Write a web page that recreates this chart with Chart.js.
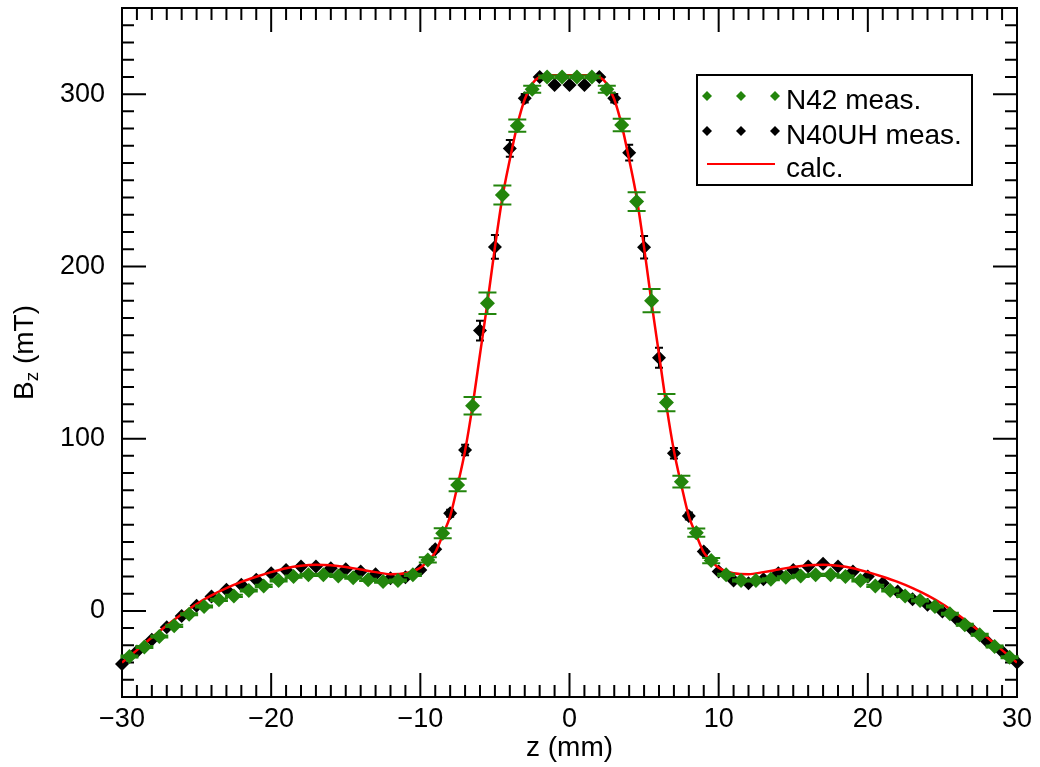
<!DOCTYPE html>
<html lang="en">
<head>
<meta charset="UTF-8" />
<title>Bz along z</title>
<script src="https://cdn.jsdelivr.net/npm/chart.js"></script>
<style>
  body { margin: 0; background: #fff; }
  canvas { display: block; }
</style>
</head>
<body>
<canvas id="chart" width="1040" height="767"></canvas>
<script>
  // N42 magnet, measured at half-mm positions
  const n42Z = [-29.5, -28.5, -27.5, -26.5, -25.5, -24.5, -23.5, -22.5, -21.5, -20.5,
                -19.5, -18.5, -17.5, -16.5, -15.5, -14.5, -13.5, -12.5, -11.5, -10.5,
                -9.5, -8.5, -7.5, -6.5, -5.5, -4.5, -3.5, -2.5, -1.5, -0.5,
                0.5, 1.5, 2.5, 3.5, 4.5, 5.5, 6.5, 7.5, 8.5, 9.5,
                10.5, 11.5, 12.5, 13.5, 14.5, 15.5, 16.5, 17.5, 18.5, 19.5,
                20.5, 21.5, 22.5, 23.5, 24.5, 25.5, 26.5, 27.5, 28.5, 29.5];
  const n42B = [-26.5, -21.0, -14.9, -8.7, -2.0, 2.5, 6.4, 8.7, 11.8, 14.5,
                17.6, 19.9, 20.9, 20.9, 20.3, 19.3, 18.0, 17.0, 17.6, 20.9,
                29.6, 45.1, 73.1, 119.1, 178.6, 241.4, 281.7, 302.8, 310.0, 310.0,
                310.0, 310.0, 302.8, 282.1, 237.6, 180.1, 120.9, 75.0, 45.4, 29.2,
                20.9, 17.6, 17.6, 18.4, 19.5, 20.3, 20.9, 20.9, 19.9, 17.6,
                14.5, 11.8, 8.7, 6.0, 2.5, -1.7, -8.1, -13.9, -20.7, -26.9];
  const n42Err = [0.6, 0.6, 0.6, 0.6, 0.6, 0.6, 0.6, 0.6, 0.6, 0.6,
                  0.6, 0.6, 0.6, 0.6, 0.6, 0.6, 0.6, 0.6, 0.6, 0.6,
                  1.5, 2.9, 3.6, 5.1, 6.3, 5.5, 3.6, 2.0, 0.8, 0.8,
                  0.8, 0.8, 2.0, 3.6, 5.5, 6.8, 5.0, 3.4, 2.4, 1.5,
                  0.6, 0.6, 0.6, 0.6, 0.6, 0.6, 0.6, 0.6, 0.6, 0.6,
                  0.6, 0.6, 0.6, 0.6, 0.6, 0.6, 0.6, 0.6, 0.6, 0.6];

  // N40UH magnet, measured at whole-mm positions
  const n40Z = [-30, -29, -28, -27, -26, -25, -24, -23, -22, -21,
                -20, -19, -18, -17, -16, -15, -14, -13, -12, -11,
                -10, -9, -8, -7, -6, -5, -4, -3, -2, -1, 0,
                1, 2, 3, 4, 5, 6, 7, 8, 9, 10,
                11, 12, 13, 14, 15, 16, 17, 18, 19, 20,
                21, 22, 23, 24, 25, 26, 27, 28, 29, 30];
  const n40B = [-30.8, -23.6, -16.8, -9.5, -3.0, 3.0, 8.3, 12.2, 15.1, 18.0,
                21.9, 23.8, 25.7, 25.7, 24.8, 24.2, 22.8, 21.3, 19.0, 19.5,
                23.8, 35.8, 56.7, 93.4, 162.7, 211.3, 268.5, 297.6, 310.0, 305.3, 305.3,
                305.3, 310.0, 297.6, 266.0, 211.1, 147.0, 91.5, 55.1, 34.4, 22.8,
                17.6, 16.1, 18.4, 21.9, 23.8, 25.7, 27.3, 25.7, 22.8, 19.9,
                16.1, 11.2, 6.8, 3.5, -0.4, -5.2, -11.0, -17.8, -23.6, -30.0];
  const n40Err = [0.5, 0.5, 0.5, 0.5, 0.5, 0.5, 0.5, 0.5, 0.5, 0.5,
                  0.5, 0.5, 0.5, 0.5, 0.5, 0.5, 0.5, 0.5, 0.5, 0.5,
                  0.5, 1.5, 2.0, 3.0, 5.8, 6.9, 4.8, 2.5, 0.8, 0.8, 0.8,
                  0.8, 0.8, 2.5, 4.6, 6.6, 5.8, 3.0, 2.0, 1.5, 0.5,
                  0.5, 0.5, 0.5, 0.5, 0.5, 0.5, 0.5, 0.5, 0.5, 0.5,
                  0.5, 0.5, 0.5, 0.5, 0.5, 0.5, 0.5, 0.5, 0.5, 0.5];

  // calculated profile
  const calcZ = [-30, -29, -28, -27, -26, -25, -24, -23, -22, -21,
                 -20, -19, -18, -17, -16, -15, -14, -13, -12, -11, -10,
                 -9.5, -9, -8.5, -8, -7.5, -7, -6.5, -6, -5.5, -5,
                 -4.5, -4, -3.5, -3, -2.5, -2, -1.5, -1, -0.5, 0,
                 0.5, 1, 1.5, 2, 2.5, 3, 3.5, 4, 4.5, 5,
                 5.5, 6, 6.5, 7, 7.5, 8, 8.5, 9, 9.5,
                 10, 11, 12, 13, 14, 15, 16, 17, 18, 19, 20,
                 21, 22, 23, 24, 25, 26, 27, 28, 29, 30];
  const calcB = [-30, -22.8, -15.5, -8.5, -2, 4, 9, 13.2, 16.8, 19.8,
                 22.5, 24.8, 26.2, 26.8, 26.5, 25.5, 24, 22.5, 21.3, 21.8, 25,
                 29, 34, 44, 55, 73, 93, 119, 149, 179, 211,
                 240, 262, 282, 297, 306, 310, 311, 311, 311, 311,
                 311, 311, 311, 310, 306, 297, 282, 262, 240, 211,
                 179, 149, 119, 93, 73, 55, 44, 34, 29,
                 25, 21.8, 21.3, 22.5, 24, 25.5, 26.5, 26.8, 26.2, 24.8, 22.5,
                 19.8, 16.8, 13.2, 9, 4, -2, -8.5, -15.5, -22.8, -30];

  const xTicks = [-30, -20, -10, 0, 10, 20, 30];
  const yTicks = [0, 100, 200, 300];

  const FONT = "'Liberation Sans', Arial, Helvetica, sans-serif";
  const GREEN = '#23850c';

  const pts = (xs, ys) => xs.map((v, i) => ({ x: v, y: ys[i] }));
  const minus = v => String(v).replace('-', '\u2212');

  // box with inward ticks on all four sides
  const frame = {
    id: 'frame',
    beforeDatasetsDraw(chart) {
      const { ctx, chartArea: a, scales: { x, y } } = chart;
      ctx.save();
      ctx.strokeStyle = '#000';
      ctx.lineWidth = 2;
      ctx.beginPath();
      for (let v = -30; v <= 30; v++) {
        const px = x.getPixelForValue(v);
        const len = v % 10 === 0 ? 24 : 12;
        ctx.moveTo(px, a.bottom); ctx.lineTo(px, a.bottom - len);
        ctx.moveTo(px, a.top); ctx.lineTo(px, a.top + len);
      }
      for (let v = -50; v <= 350; v += 10) {
        const py = y.getPixelForValue(v);
        const len = v % 100 === 0 ? 24 : 12;
        ctx.moveTo(a.left, py); ctx.lineTo(a.left + len, py);
        ctx.moveTo(a.right, py); ctx.lineTo(a.right - len, py);
      }
      ctx.stroke();
      ctx.strokeRect(a.left, a.top, a.right - a.left, a.bottom - a.top);
      ctx.restore();
    }
  };

  // vertical error bars with caps, drawn just under each dataset's markers
  const errorBars = {
    id: 'errorBars',
    beforeDatasetDraw(chart, args) {
      const ds = chart.data.datasets[args.index];
      if (!ds.errors) return;
      const { ctx, scales: { x, y } } = chart;
      ctx.save();
      ctx.strokeStyle = ds.backgroundColor;
      ctx.lineWidth = 2;
      ctx.beginPath();
      ds.data.forEach((p, i) => {
        const px = x.getPixelForValue(p.x);
        const hi = y.getPixelForValue(p.y + ds.errors[i]);
        const lo = y.getPixelForValue(p.y - ds.errors[i]);
        const c = ds.capHalf;
        ctx.moveTo(px, hi); ctx.lineTo(px, lo);
        ctx.moveTo(px - c, hi); ctx.lineTo(px + c, hi);
        ctx.moveTo(px - c, lo); ctx.lineTo(px + c, lo);
      });
      ctx.stroke();
      ctx.restore();
    }
  };

  function diamond(ctx, cx, cy, r, color) {
    ctx.fillStyle = color;
    ctx.beginPath();
    ctx.moveTo(cx - r, cy); ctx.lineTo(cx, cy - r);
    ctx.lineTo(cx + r, cy); ctx.lineTo(cx, cy + r);
    ctx.closePath();
    ctx.fill();
  }

  // legend box and the y title with its subscript
  const extras = {
    id: 'extras',
    afterDraw(chart) {
      const ctx = chart.ctx;
      const ds = chart.data.datasets;
      ctx.save();
      ctx.fillStyle = '#fff';
      ctx.fillRect(697, 75, 275, 110);
      ctx.strokeStyle = '#000';
      ctx.lineWidth = 2;
      ctx.strokeRect(697, 75, 275, 110);

      const rows = [
        { ds: ds[0], sym: 96, base: 109 },
        { ds: ds[2], sym: 131, base: 144 },
        { ds: ds[1], sym: 164, base: 177 }
      ];
      ctx.font = '28px ' + FONT;
      ctx.textBaseline = 'alphabetic';
      rows.forEach(r => {
        if (r.ds.showLine) {
          ctx.strokeStyle = r.ds.borderColor;
          ctx.lineWidth = 2;
          ctx.beginPath();
          ctx.moveTo(707, r.sym); ctx.lineTo(775, r.sym);
          ctx.stroke();
        } else {
          [707, 741, 775].forEach(px => diamond(ctx, px, r.sym, 5, r.ds.backgroundColor));
        }
        ctx.fillStyle = '#000';
        ctx.fillText(r.ds.label, 786, r.base);
      });

      // B_z (mT), rotated
      const big = '28px ' + FONT, small = '19px ' + FONT;
      ctx.font = big;
      const wB = ctx.measureText('B').width;
      const wRest = ctx.measureText(' (mT)').width;
      ctx.font = small;
      const wz = ctx.measureText('z').width;
      const a = chart.chartArea;
      ctx.translate(33, (a.top + a.bottom) / 2);
      ctx.rotate(-Math.PI / 2);
      let sx = -(wB + wz + wRest) / 2;
      ctx.fillStyle = '#000';
      ctx.font = big;
      ctx.fillText('B', sx, 0);
      sx += wB;
      ctx.font = small;
      ctx.fillText('z', sx, 5);
      sx += wz;
      ctx.font = big;
      ctx.fillText(' (mT)', sx, 0);
      ctx.restore();
    }
  };

  new Chart(document.getElementById('chart'), {
    type: 'scatter',
    data: {
      datasets: [
        {
          label: 'N42 meas.',
          data: pts(n42Z, n42B),
          errors: n42Err,
          capHalf: 9,
          backgroundColor: GREEN,
          borderColor: GREEN,
          pointStyle: 'rectRot',
          pointRadius: 7.5,
          borderWidth: 0,
          showLine: false,
          clip: false
        },
        {
          label: 'calc.',
          data: pts(calcZ, calcB),
          borderColor: '#ff0000',
          backgroundColor: '#ff0000',
          borderWidth: 2.5,
          pointRadius: 0,
          showLine: true,
          cubicInterpolationMode: 'monotone'
        },
        {
          label: 'N40UH meas.',
          data: pts(n40Z, n40B),
          errors: n40Err,
          capHalf: 4,
          backgroundColor: '#000000',
          borderColor: '#000000',
          pointStyle: 'rectRot',
          pointRadius: 7,
          borderWidth: 0,
          showLine: false,
          clip: false
        }
      ]
    },
    options: {
      responsive: false,
      animation: false,
      events: [],
      layout: { padding: { left: 0, right: 23, top: 8, bottom: 0 } },
      plugins: {
        legend: { display: false },
        tooltip: { enabled: false }
      },
      scales: {
        x: {
          type: 'linear',
          min: -30,
          max: 30,
          afterBuildTicks: s => { s.ticks = xTicks.map(v => ({ value: v })); },
          afterFit: s => { s.height = 70; s.paddingLeft = 0; s.paddingRight = 0; },
          grid: { display: false, drawTicks: false },
          border: { display: false },
          ticks: {
            color: '#000',
            font: { family: FONT, size: 27 },
            padding: 6,
            maxRotation: 0,
            autoSkip: false,
            callback: v => minus(v)
          },
          title: {
            display: true,
            text: 'z (mm)',
            color: '#000',
            font: { family: FONT, size: 28 },
            padding: { top: 0, bottom: 2 }
          }
        },
        y: {
          type: 'linear',
          min: -50,
          max: 350,
          afterBuildTicks: s => { s.ticks = yTicks.map(v => ({ value: v })); },
          afterFit: s => { s.width = 122; s.paddingTop = 0; s.paddingBottom = 0; },
          grid: { display: false, drawTicks: false },
          border: { display: false },
          ticks: {
            color: '#000',
            font: { family: FONT, size: 27 },
            padding: 17,
            callback: v => minus(v)
          }
        }
      }
    },
    plugins: [frame, errorBars, extras]
  });
</script>
</body>
</html>
